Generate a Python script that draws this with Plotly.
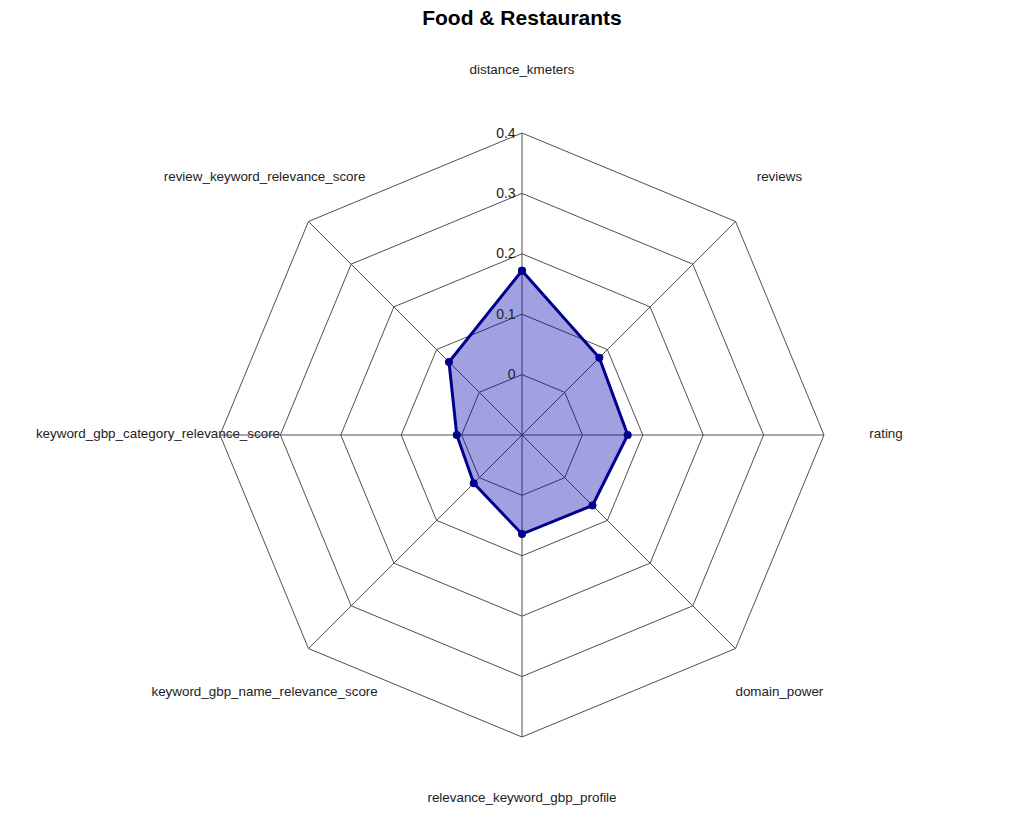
import math
import plotly.graph_objects as go

categories = [
    "distance_kmeters",
    "reviews",
    "rating",
    "domain_power",
    "relevance_keyword_gbp_profile",
    "keyword_gbp_name_relevance_score",
    "keyword_gbp_category_relevance_score",
    "review_keyword_relevance_score",
]
values = [0.172, 0.081, 0.075, 0.065, 0.064, 0.013, 0.008, 0.071]
radial_ticks = [0, 0.1, 0.2, 0.3, 0.4]
title_text = "Food & Restaurants"

# The radial axis of the reference starts at -0.1 (the "0" ring sits one step
# from the centre).  Plotly hides markers below a negative range start on
# polygon grids, so the axis is drawn as [0, 0.5] with a constant shift and
# the tick labels keep the true values.
R_MIN, R_MAX = -0.1, 0.4
SHIFT = -R_MIN

W, H = 1017, 821
CX, CY, RAD = 514, 394, 302          # polar centre (px, y from bottom), radius
LABEL_R = 364                        # category label distance from centre (px)
GRID = "#505050"
FONT = "Liberation Sans, Arial, sans-serif"

fig = go.Figure()

# category labels: hidden full-page cartesian layer beneath the polar grid
n = len(categories)
lab_x = [CX + LABEL_R * math.sin(2 * math.pi * i / n) for i in range(n)]
lab_y = [CY + LABEL_R * math.cos(2 * math.pi * i / n) for i in range(n)]
fig.add_trace(go.Scatter(
    x=lab_x, y=lab_y, mode="text", text=categories,
    textposition="middle center",
    textfont=dict(family=FONT, size=13.4, color="#222222"),
    hoverinfo="skip", showlegend=False,
))

r_plot = [v + SHIFT for v in values]
fig.add_trace(go.Scatterpolar(
    r=r_plot + r_plot[:1],
    theta=categories + categories[:1],
    mode="lines+markers",
    fill="toself",
    fillcolor="rgba(0,0,175,0.37)",
    line=dict(color="#00008B", width=3),
    marker=dict(color="#00008B", size=8),
    showlegend=False,
))

fig.update_layout(
    width=W, height=H,
    paper_bgcolor="white",
    plot_bgcolor="rgba(0,0,0,0)",
    margin=dict(l=0, r=0, t=0, b=0),
    title=dict(text="<b>" + title_text + "</b>", x=0.5054, xanchor="center",
               y=0.988, yanchor="middle",
               font=dict(family=FONT, size=21, color="black")),
    font=dict(family=FONT),
    xaxis=dict(range=[0, W], domain=[0, 1], visible=False, fixedrange=True),
    yaxis=dict(range=[0, H], domain=[0, 1], visible=False, fixedrange=True),
    polar=dict(
        bgcolor="rgba(0,0,0,0)",
        gridshape="linear",
        domain=dict(x=[(CX - RAD) / W, (CX + RAD) / W],
                    y=[(CY - RAD) / H, (CY + RAD) / H]),
        radialaxis=dict(
            range=[R_MIN + SHIFT, R_MAX + SHIFT],
            tickvals=[t + SHIFT for t in radial_ticks],
            ticktext=[str(t) for t in radial_ticks],
            angle=90,
            tickangle=90,
            side="counterclockwise",
            showline=False,
            gridcolor=GRID,
            gridwidth=1,
            ticks="outside",
            ticklen=1,
            tickcolor="rgba(0,0,0,0)",
            tickfont=dict(family=FONT, size=14, color="#222222"),
        ),
        angularaxis=dict(
            direction="clockwise",
            rotation=90,
            showticklabels=False,
            ticks="",
            gridcolor=GRID,
            gridwidth=1,
            showline=True,
            linecolor=GRID,
            linewidth=1,
        ),
    ),
)

fig.write_html("out.html")
